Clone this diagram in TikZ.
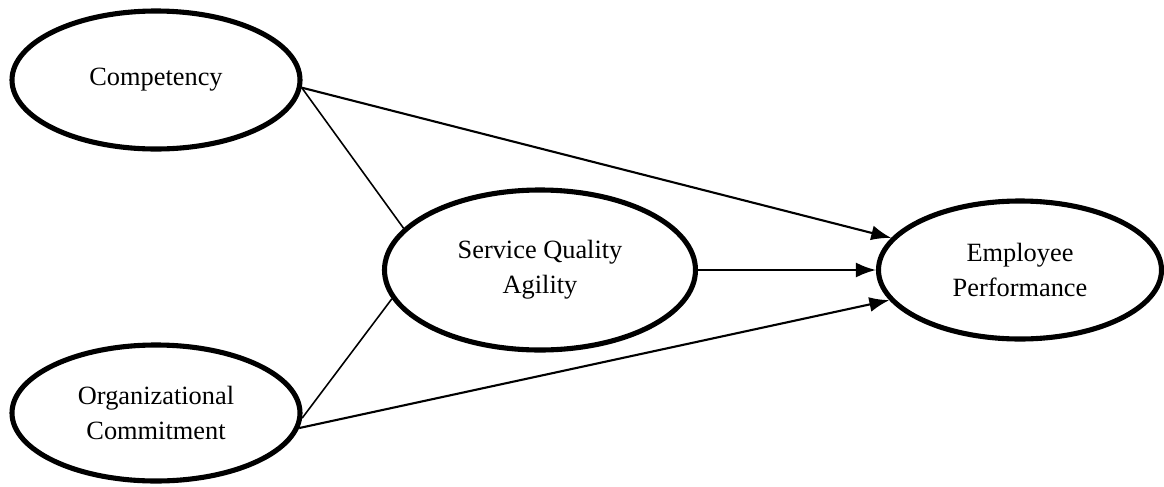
\documentclass[tikz,border=0pt]{standalone}
\usepackage{fontspec}
\setmainfont{Liberation Serif}
\usetikzlibrary{shapes.geometric,arrows.meta}
\begin{document}
\begin{tikzpicture}[latente/.style={ellipse, draw, line width=2.9pt, align=center, font=\fontsize{15}{20}\selectfont},
  camino/.style={line width=1.2pt, -{Latex[length=4mm,width=3mm]}},
  enlace/.style={line width=0.9pt}]
  \useasboundingbox (0,0) rectangle (23.28,-9.72);
  \node[latente, minimum width=5.76cm, minimum height=2.76cm] (comp) at (3.12,-1.60) {Competency};
  \node[latente, minimum width=5.76cm, minimum height=2.72cm] (oc) at (3.12,-8.26) {Organizational\\Commitment};
  \node[latente, minimum width=6.22cm, minimum height=3.2cm] (sqa) at (10.80,-5.40) {Service Quality\\Agility};
  \node[latente, minimum width=5.66cm, minimum height=2.76cm] (ep) at (20.40,-5.40) {Employee\\Performance};
  \draw[enlace] (comp.-3) -- (sqa.163);
  \draw[enlace] (oc.-2) -- (sqa.191);
  \draw[camino] (comp.-3) -- (ep.166);
  \draw[camino] (sqa.east) -- (ep.west);
  \draw[camino] (oc.-6) -- (ep.193);
\end{tikzpicture}
\end{document}
